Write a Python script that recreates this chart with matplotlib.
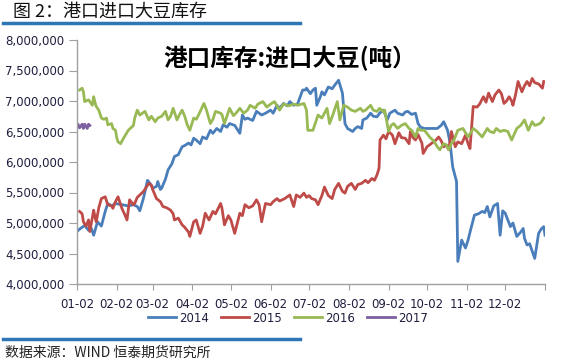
import matplotlib
matplotlib.use("Agg")
import matplotlib.pyplot as plt
from matplotlib.ticker import FuncFormatter

plt.rcParams['font.family'] = ['Noto Sans CJK SC', 'DejaVu Sans']

# x = days since 01-02, values in million tonnes
days_2014 = [0, 2, 6, 9, 11, 13, 15, 16, 19, 22, 24, 27, 30, 35, 40, 44, 47, 49, 52, 55, 58, 59, 62, 63,
             65, 66, 69, 71, 74, 76, 79, 82, 84, 87, 89, 91, 93, 96, 98, 101, 104, 106, 109, 112, 114, 117,
             119, 123, 127, 129, 131, 133, 137, 140, 144, 147, 151, 153, 156, 158, 161, 164, 166, 169, 172,
             176, 178, 179, 182, 184, 186, 187, 190, 191, 193, 196, 199, 201, 204, 207, 209, 211, 215, 217,
             219, 222, 223, 226, 229, 231, 234, 236, 239, 242, 244, 248, 250, 254, 256, 258, 261, 264, 266,
             268, 271, 275, 281, 284, 286, 289, 291, 293, 296, 297, 300, 303, 305, 307, 310, 313, 316, 318,
             320, 322, 325, 328, 330, 332, 334, 336, 338, 340, 343, 346, 348, 349, 351, 353, 357, 360, 362,
             364, 365]
vals_2014 = [4.86, 4.90, 4.96, 4.88, 4.92, 4.80, 4.95, 5.02, 4.95, 5.19, 5.32, 5.28, 5.32, 5.30, 5.28, 5.30,
             5.27, 5.20, 5.42, 5.70, 5.62, 5.57, 5.60, 5.68, 5.55, 5.57, 5.72, 5.87, 5.97, 6.09, 6.12, 6.25,
             6.27, 6.31, 6.28, 6.39, 6.36, 6.30, 6.41, 6.38, 6.52, 6.47, 6.55, 6.50, 6.61, 6.57, 6.63, 6.60,
             6.47, 6.77, 6.70, 6.72, 6.68, 6.83, 6.77, 6.80, 6.85, 6.80, 6.93, 6.88, 6.96, 6.92, 6.99, 6.93,
             6.95, 7.18, 7.18, 7.21, 7.12, 7.18, 7.21, 6.93, 7.08, 7.15, 7.10, 7.23, 7.20, 7.26, 7.34, 7.13,
             6.63, 6.55, 6.50, 6.55, 6.58, 6.55, 6.69, 6.72, 6.80, 6.75, 6.74, 6.80, 6.85, 6.69, 6.80, 6.85,
             6.80, 6.77, 6.82, 6.83, 6.78, 6.80, 6.63, 6.57, 6.55, 6.55, 6.55, 6.60, 6.66, 6.52, 6.31, 5.92,
             5.68, 4.37, 4.72, 4.59, 4.72, 4.89, 5.13, 5.15, 5.19, 5.17, 5.27, 5.10, 5.28, 5.32, 4.80, 5.20,
             5.16, 5.05, 4.94, 5.00, 4.78, 4.85, 4.91, 4.75, 4.64, 4.66, 4.42, 4.83, 4.90, 4.94, 4.80]

days_2015 = [2, 4, 5, 7, 9, 10, 13, 14, 15, 17, 19, 22, 24, 27, 28, 30, 32, 35, 37, 39, 41, 44, 45, 47,
             49, 52, 56, 58, 59, 62, 65, 67, 70, 73, 75, 76, 79, 82, 84, 87, 88, 91, 93, 96, 98, 100, 103,
             106, 108, 112, 113, 115, 118, 120, 123, 127, 129, 131, 134, 137, 140, 142, 144, 147, 151, 153,
             156, 158, 162, 166, 169, 171, 174, 177, 179, 181, 183, 186, 188, 191, 193, 196, 199, 201, 204,
             207, 209, 211, 214, 217, 219, 222, 225, 227, 230, 232, 234, 235.6, 236.3, 239, 241, 243, 246,
             248, 251, 253, 256, 259, 260, 262, 264, 266, 269, 270, 273, 275, 278, 280, 282, 284, 286, 288,
             290, 292, 295, 297, 300, 303, 305, 306.5, 309, 312, 314, 317, 319, 321, 324, 326, 329, 331, 333,
             335, 337, 339, 340, 342, 344, 347, 349, 351, 353, 355, 357, 360, 363, 364]
vals_2015 = [5.19, 5.15, 5.02, 4.95, 5.05, 4.86, 5.21, 5.10, 5.02, 5.25, 5.40, 5.43, 5.30, 5.28, 5.24, 5.35,
             5.43, 5.24, 5.15, 5.05, 5.38, 5.30, 5.32, 5.42, 5.46, 5.52, 5.65, 5.62, 5.55, 5.40, 5.35, 5.27,
             5.25, 5.21, 5.15, 5.05, 5.08, 4.97, 4.93, 4.85, 4.78, 5.02, 5.05, 4.83, 4.95, 5.16, 5.05, 5.19,
             5.15, 5.32, 5.25, 4.97, 5.12, 5.05, 4.83, 5.16, 5.12, 5.30, 5.25, 5.28, 5.38, 5.30, 5.02, 5.32,
             5.30, 5.35, 5.40, 5.36, 5.40, 5.46, 5.27, 5.46, 5.42, 5.49, 5.42, 5.45, 5.40, 5.38, 5.30, 5.45,
             5.59, 5.45, 5.40, 5.55, 5.65, 5.52, 5.49, 5.60, 5.65, 5.55, 5.63, 5.65, 5.70, 5.66, 5.73, 5.70,
             5.79, 5.90, 6.36, 6.44, 6.38, 6.50, 6.44, 6.30, 6.48, 6.40, 6.39, 6.30, 6.50, 6.40, 6.36, 6.45,
             6.31, 6.14, 6.25, 6.28, 6.33, 6.36, 6.41, 6.35, 6.25, 6.28, 6.20, 6.50, 6.25, 6.33, 6.30, 6.44,
             6.30, 6.22, 6.91, 6.90, 6.95, 7.07, 6.98, 7.13, 6.99, 7.10, 7.18, 7.12, 6.96, 7.00, 7.07, 7.00,
             6.93, 7.10, 7.32, 7.15, 7.25, 7.32, 7.25, 7.37, 7.30, 7.28, 7.21, 7.32]

days_2016 = [2, 4, 5, 6, 9, 12, 13, 14, 15, 17, 19, 21, 23, 24, 27, 28, 30, 31, 32, 34, 36, 40, 44, 45,
             47, 49, 51, 53, 56, 58, 61, 63, 66, 69, 71, 73, 75, 78, 80, 82, 84, 86, 88, 91, 93, 95, 99,
             101, 104, 106, 108, 112, 113, 115, 119, 122, 124, 127, 130, 133, 135, 139, 141, 145, 148, 151,
             154, 158, 161, 165, 169, 172, 177, 179, 180, 184, 188, 191, 195, 197, 200, 203, 205, 208, 211,
             214, 217, 221, 223, 225, 229, 231, 234, 236, 239, 240, 243, 245, 247, 250, 253, 256, 259, 261,
             264, 266, 268, 271, 275, 278, 281, 283, 286, 288, 290, 292, 294, 297, 301, 305, 309, 312, 316,
             320, 322, 325, 327, 330, 333, 336, 339, 343, 346, 349, 352, 355, 357, 360, 362, 364]
vals_2016 = [7.18, 7.21, 7.15, 6.99, 7.02, 6.93, 7.07, 6.98, 6.91, 6.85, 6.72, 6.70, 6.72, 6.61, 6.63, 6.55,
             6.52, 6.40, 6.33, 6.30, 6.38, 6.52, 6.60, 6.72, 6.85, 6.77, 6.80, 6.83, 6.69, 6.75, 6.66, 6.72,
             6.75, 6.83, 6.69, 6.75, 6.88, 6.69, 6.78, 6.85, 6.75, 6.61, 6.52, 6.72, 6.70, 6.78, 6.96, 6.85,
             6.63, 6.70, 6.83, 6.80, 6.78, 6.63, 6.88, 6.76, 6.80, 6.88, 6.80, 6.85, 6.93, 6.88, 6.95, 6.99,
             6.90, 6.95, 6.99, 6.85, 6.95, 6.92, 6.95, 6.93, 6.96, 6.85, 6.52, 6.52, 6.77, 6.72, 6.88, 6.63,
             6.80, 6.99, 6.69, 6.93, 6.90, 6.85, 6.83, 6.88, 6.83, 6.85, 6.93, 6.85, 6.83, 6.88, 6.82, 6.85,
             6.50, 6.60, 6.63, 6.55, 6.60, 6.63, 6.55, 6.52, 6.41, 6.55, 6.52, 6.52, 6.41, 6.35, 6.25, 6.20,
             6.30, 6.28, 6.20, 6.30, 6.36, 6.52, 6.55, 6.41, 6.55, 6.50, 6.41, 6.55, 6.50, 6.48, 6.55, 6.50,
             6.52, 6.50, 6.36, 6.55, 6.60, 6.69, 6.52, 6.66, 6.60, 6.62, 6.65, 6.72]

days_2017 = [1, 2, 4, 5, 6, 8, 9, 10]
vals_2017 = [6.61, 6.56, 6.62, 6.55, 6.62, 6.55, 6.62, 6.60]

tick_days = [0, 31, 59, 90, 120, 151, 181, 212, 243, 273, 304, 334, 365]
tick_labels = ['01-02', '02-02', '03-02', '04-02', '05-02', '06-02', '07-02', '08-02',
               '09-02', '10-02', '11-02', '12-02', '']
series_names = ['2014', '2015', '2016', '2017']

W, H = 577, 363
fig = plt.figure(figsize=(W / 100, H / 100), dpi=100)
fig.patch.set_facecolor('white')
ax = fig.add_axes([77 / W, 1 - 284 / H, (545 - 77) / W, (284 - 40) / H])

colors = ['#4A7EBB', '#BE4B48', '#98B954', '#7D60A0']
all_days = [days_2014, days_2015, days_2016, days_2017]
all_vals = [vals_2014, vals_2015, vals_2016, vals_2017]
for d, v, c, n in zip(all_days, all_vals, colors, series_names):
    ax.plot(d, [x * 1e6 for x in v], color=c, lw=2.0, label=n, solid_joinstyle='round')

ax.set_xlim(0, 365)
ax.set_ylim(4e6, 8e6)
ax.set_yticks([4e6 + i * 5e5 for i in range(9)])
ax.yaxis.set_major_formatter(FuncFormatter(lambda v, p: f'{int(v):,}'))
ax.set_xticks(tick_days)
ax.set_xticklabels(tick_labels)
for s in ['top', 'right']:
    ax.spines[s].set_visible(False)
for s in ['left', 'bottom']:
    ax.spines[s].set_color('#A0A0A0')
    ax.spines[s].set_linewidth(1.0)
ax.tick_params(axis='y', direction='out', length=6, color='#A0A0A0', labelsize=8.5,
               labelcolor='#1F1F3F', pad=3)
ax.tick_params(axis='x', direction='out', length=4, color='#A0A0A0', labelsize=8.5,
               labelcolor='#1F1F3F', pad=6)
for lbl in ax.get_yticklabels() + ax.get_xticklabels():
    lbl.set_family(['DejaVu Sans'])

ax.text(0.455, 0.975, '港口库存:进口大豆(吨）', transform=ax.transAxes, ha='center', va='top',
        fontsize=17, fontweight='bold', color='black')

leg = fig.legend(loc='center', bbox_to_anchor=(288 / W, 1 - 318 / H), ncol=4, frameon=False,
                 fontsize=8.5, handlelength=2.4, columnspacing=1.0, handletextpad=0.25)
for t in leg.get_texts():
    t.set_color('#1F1F3F')
    t.set_family(['DejaVu Sans'])

fig.text(13 / W, 1 - 12 / H, '图 2：港口进口大豆库存', fontsize=13, ha='left', va='center', color='#111111')
fig.add_artist(plt.Line2D([3 / W, 300 / W], [1 - 23 / H, 1 - 23 / H], color='#2E75B6', lw=2.5))
fig.add_artist(plt.Line2D([3 / W, 300 / W], [1 - 339 / H, 1 - 339 / H], color='#2E75B6', lw=2.5))
fig.text(5 / W, 1 - 353 / H, '数据来源：WIND 恒泰期货研究所', fontsize=10, ha='left', va='center', color='#222222')

fig.savefig('out.png', dpi=100, facecolor='white')
